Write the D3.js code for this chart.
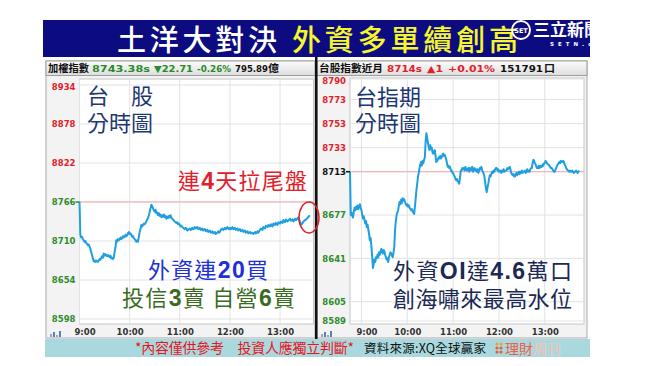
<!DOCTYPE html>
<html>
<head>
<meta charset="utf-8">
<script src="https://cdn.jsdelivr.net/npm/d3@7"></script>
<style>
body { margin: 0; background: #fff; }
svg { display: block; font-family: "Noto Sans CJK TC", sans-serif; }
</style>
</head>
<body>
<svg id="chart" width="650" height="366"></svg>
<script>
// ---- data ----
// TAIEX, one value per minute from 09:00
const taiexStart = "09:00";
const taiexValue = [
  8766, 8719, 8715, 8716, 8713, 8711, 8709, 8710, 8707, 8706,
  8704, 8705, 8702, 8699, 8694, 8690, 8685, 8681, 8682, 8680,
  8682, 8681, 8680, 8682, 8684, 8683, 8686, 8688, 8686, 8692,
  8689, 8691, 8690, 8688, 8690, 8688, 8687, 8689, 8685, 8686,
  8684, 8686, 8694, 8701, 8711, 8709, 8713, 8711, 8712, 8715,
  8713, 8714, 8717, 8715, 8716, 8719, 8717, 8718, 8721, 8723,
  8720, 8721, 8719, 8716, 8717, 8714, 8713, 8711, 8709, 8711,
  8709, 8716, 8723, 8727, 8733, 8731, 8733, 8735, 8734, 8736,
  8738, 8741, 8743, 8747, 8752, 8757, 8762, 8760, 8757, 8754,
  8752, 8755, 8750, 8751, 8747, 8750, 8746, 8748, 8744, 8747,
  8745, 8748, 8744, 8746, 8742, 8745, 8743, 8746, 8744, 8747,
  8743, 8742, 8741, 8739, 8738, 8737, 8736, 8737, 8734, 8735,
  8733, 8731, 8732, 8730, 8729, 8728, 8727, 8729, 8728, 8725,
  8726, 8727, 8728, 8726, 8727, 8729, 8727, 8728, 8730, 8728,
  8729, 8730, 8727, 8728, 8729, 8726, 8727, 8728, 8725, 8726,
  8727, 8724, 8725, 8726, 8723, 8724, 8725, 8722, 8723, 8724,
  8721, 8722, 8723, 8720, 8721, 8722, 8724, 8722, 8723, 8726,
  8727, 8728, 8726, 8727, 8729, 8727, 8728, 8730, 8728, 8727,
  8729, 8727, 8728, 8730, 8727, 8728, 8729, 8726, 8727, 8728,
  8725, 8726, 8727, 8724, 8725, 8726, 8723, 8724, 8725, 8722,
  8723, 8724, 8721, 8722, 8723, 8721, 8722, 8722, 8720, 8721,
  8723, 8721, 8722, 8724, 8722, 8724, 8726, 8728, 8727, 8726,
  8730, 8729, 8728, 8732, 8731, 8730, 8733, 8732, 8731, 8734,
  8732, 8731, 8735, 8734, 8733, 8736, 8734, 8733, 8737, 8736,
  8735, 8738, 8737, 8736, 8740, 8738, 8737, 8741, 8739, 8738,
  8740, 8741, 8742, 8739, 8740, 8741, 8738, 8740, 8742, 8740,
  8741, 8743, 8744, 8740, 8736, 8735, 8734, 8736, 8738, 8739,
  8740, 8741, 8742, 8743, 8745, 8746, 8746
];
const taiexTicks = [8598, 8654, 8710, 8766, 8822, 8878, 8934];
const taiexPrevClose = 8766.09;

// TAIEX futures near month, one value per minute from 08:45
const futStart = "08:45";
const futValue = [
  8713, 8677, 8679, 8676, 8675, 8680, 8683, 8681, 8684, 8682,
  8685, 8682, 8684, 8686, 8683, 8681, 8677, 8674, 8676, 8673,
  8670, 8672, 8667, 8669, 8665, 8661, 8656, 8658, 8651, 8643,
  8633, 8636, 8640, 8638, 8642, 8641, 8644, 8642, 8646, 8644,
  8647, 8649, 8646, 8645, 8648, 8647, 8644, 8642, 8640, 8641,
  8638, 8642, 8644, 8646, 8645, 8643, 8642, 8646, 8651, 8665,
  8672, 8677, 8679, 8681, 8685, 8688, 8686, 8690, 8687, 8691,
  8689, 8690, 8688, 8686, 8685, 8686, 8684, 8685, 8683, 8682,
  8681, 8682, 8680, 8679, 8678, 8684, 8691, 8698, 8703, 8709,
  8712, 8716, 8719, 8721, 8718, 8722, 8720, 8723, 8725, 8738,
  8745, 8741, 8737, 8734, 8731, 8735, 8732, 8733, 8729, 8728,
  8730, 8731, 8726, 8721, 8722, 8723, 8725, 8724, 8726, 8724,
  8725, 8727, 8728, 8726, 8727, 8725, 8723, 8720, 8717, 8718,
  8716, 8717, 8714, 8714, 8712, 8712, 8710, 8709, 8707, 8706,
  8707, 8705, 8704, 8703, 8708, 8714, 8714, 8716, 8715, 8716,
  8714, 8717, 8715, 8714, 8715, 8716, 8713, 8716, 8714, 8715,
  8717, 8713, 8715, 8716, 8714, 8715, 8713, 8715, 8712, 8714,
  8716, 8715, 8717, 8714, 8713, 8711, 8709, 8704, 8699, 8696,
  8700, 8703, 8707, 8710, 8709, 8711, 8713, 8712, 8714, 8713,
  8715, 8716, 8716, 8714, 8715, 8713, 8713, 8714, 8712, 8714,
  8713, 8715, 8713, 8714, 8714, 8714, 8716, 8715, 8716, 8717,
  8715, 8712, 8711, 8710, 8711, 8709, 8709, 8711, 8712, 8710,
  8712, 8713, 8711, 8713, 8712, 8714, 8712, 8713, 8713, 8714,
  8712, 8713, 8715, 8713, 8714, 8713, 8715, 8716, 8716, 8720,
  8723, 8722, 8720, 8719, 8717, 8716, 8716, 8718, 8716, 8718,
  8717, 8717, 8719, 8718, 8720, 8720, 8722, 8721, 8720, 8719,
  8719, 8718, 8717, 8716, 8716, 8715, 8714, 8713, 8713, 8715,
  8716, 8718, 8719, 8720, 8721, 8720, 8722, 8721, 8721, 8722,
  8721, 8719, 8718, 8716, 8715, 8714, 8714, 8713, 8714, 8713,
  8713, 8714, 8713, 8712, 8713, 8713, 8714, 8713, 8712, 8713,
  8714
];
const futTicks = [8589, 8605, 8641, 8677, 8713, 8733, 8753, 8773, 8790];
const futPrevClose = 8713;

const parseTime = d3.timeParse("%H:%M");
const RED = "#e2202a", GREEN = "#2c8c2c";

class IntradayChart {

    constructor(_config, _data) {
        this.config = {
            parentElement: _config.parentElement,
            panel: _config.panel,
            plot: _config.plot,
            timeDomain: _config.timeDomain,
            timeRange: _config.timeRange,
            yDomain: _config.yDomain,
            yRange: _config.yRange,
            yTicks: _config.yTicks,
            prevClose: _config.prevClose,
            header: _config.header
        }
        this.data = _data;
        this.initVis();
    }

    initVis() {
        let vis = this;
        const c = vis.config;

        vis.g = d3.select(c.parentElement).append('g');

        vis.xScale = d3.scaleTime()
            .domain(c.timeDomain.map(parseTime))
            .range(c.timeRange);

        vis.yScale = d3.scaleLinear()
            .domain(c.yDomain)
            .range(c.yRange);

        // panel frame, plot box, header strip
        vis.g.append('rect')
            .attr('x', c.panel[0]).attr('y', 61)
            .attr('width', c.panel[1] - c.panel[0]).attr('height', 277)
            .attr('fill', '#f3f3f3').attr('stroke', '#a9a9a9');

        vis.g.append('rect')
            .attr('x', c.plot.x).attr('y', c.plot.y)
            .attr('width', c.plot.width).attr('height', c.plot.height)
            .attr('fill', '#fff').attr('stroke', '#c6c6c6');

        vis.g.append('rect')
            .attr('x', c.panel[0]).attr('y', 61)
            .attr('width', c.panel[1] - c.panel[0]).attr('height', 14.5)
            .attr('fill', 'url(#hdrGrad)').attr('stroke', '#9d9d9d');

        vis.renderVis();
    }

    renderVis() {
        let vis = this;
        const c = vis.config;
        const start = parseTime(vis.data.start);
        const hours = vis.xScale.ticks(d3.timeHour.every(1));

        // grid
        vis.g.append('g').selectAll('line')
            .data(c.yTicks)
            .join('line')
            .attr('x1', c.plot.x).attr('x2', c.plot.x + c.plot.width)
            .attr('y1', d => vis.yScale(d)).attr('y2', d => vis.yScale(d))
            .attr('stroke', '#e2e2e2');

        vis.g.append('g').selectAll('line')
            .data(hours)
            .join('line')
            .attr('x1', d => vis.xScale(d)).attr('x2', d => vis.xScale(d))
            .attr('y1', c.plot.y).attr('y2', c.plot.y + c.plot.height)
            .attr('stroke', '#e2e2e2');

        // previous close reference
        vis.g.append('line')
            .attr('x1', c.plot.x).attr('x2', c.plot.x + c.plot.width)
            .attr('y1', vis.yScale(c.prevClose)).attr('y2', vis.yScale(c.prevClose))
            .attr('stroke', '#f3a9ad');

        const line = d3.line()
            .x((d, i) => vis.xScale(d3.timeMinute.offset(start, i)))
            .y(d => vis.yScale(d));

        vis.g.append('path')
            .datum(vis.data.values)
            .attr('d', line)
            .attr('fill', 'none')
            .attr('stroke', '#1f9fe0')
            .attr('stroke-width', 2)
            .attr('stroke-linejoin', 'round');

        // y axis labels, coloured against previous close
        const tickColor = d => d > c.prevClose ? RED : (d < c.prevClose ? GREEN : '#111');

        vis.yAxisG = vis.g.append('g')
            .attr('transform', `translate(${c.plot.x},0)`)
            .call(d3.axisLeft(vis.yScale).tickValues(c.yTicks).tickSize(0).tickPadding(4).tickFormat(d3.format('d')))
            .call(g => g.select('.domain').remove());
        vis.yAxisG.selectAll('text')
            .attr('fill', tickColor)
            .attr('font-family', 'DejaVu Sans, sans-serif')
            .attr('font-weight', 'bold')
            .attr('font-size', 8.5)
            .attr('dy', d => d === c.yDomain[1] ? '0.55em' : '0.32em');

        const refTick = c.yTicks.reduce((a, b) => Math.abs(b - c.prevClose) < Math.abs(a - c.prevClose) ? b : a);
        vis.g.append('line')
            .attr('x1', c.plot.x - 4).attr('x2', c.plot.x)
            .attr('y1', vis.yScale(refTick)).attr('y2', vis.yScale(refTick))
            .attr('stroke', tickColor(refTick)).attr('stroke-width', 1.5);

        // x axis
        vis.xAxisG = vis.g.append('g')
            .attr('transform', `translate(0,${c.plot.y + c.plot.height})`)
            .call(d3.axisBottom(vis.xScale).ticks(d3.timeHour.every(1)).tickSize(0).tickPadding(5)
                .tickFormat(d3.timeFormat('%-H:%M')))
            .call(g => g.select('.domain').remove());
        vis.xAxisG.selectAll('text')
            .attr('fill', '#333')
            .attr('font-family', 'DejaVu Sans, sans-serif')
            .attr('font-weight', 'bold')
            .attr('font-size', 8.5)
            .attr('dx', (d, i) => i === 0 ? 5 : 0);

        // tiny chart icon at the corner
        const ix = c.panel[0] + 4;
        vis.g.append('g').selectAll('rect')
            .data([3, 5, 2, 6])
            .join('rect')
            .attr('x', (d, i) => ix + i * 3).attr('y', d => 337 - d)
            .attr('width', 2).attr('height', d => d)
            .attr('fill', (d, i) => i % 2 ? '#5a7fb8' : '#9aa8bb');

        // header text, each piece squeezed to its measured width
        c.header.forEach(p => {
            vis.g.append('text')
                .attr('x', p.x).attr('y', 72)
                .attr('fill', p.color)
                .attr('font-weight', 'bold')
                .attr('font-family', p.cjk ? '"Noto Sans CJK TC", sans-serif' : 'DejaVu Sans, sans-serif')
                .attr('font-size', p.cjk ? 10.5 : 9.5)
                .attr('textLength', p.w)
                .attr('lengthAdjust', 'spacingAndGlyphs')
                .text(p.text);
        });
    }
}

const svg = d3.select('#chart');
const defs = svg.append('defs');
const grad = defs.append('linearGradient').attr('id', 'hdrGrad').attr('x1', 0).attr('y1', 0).attr('x2', 0).attr('y2', 1);
grad.append('stop').attr('offset', 0).attr('stop-color', '#fbfbfb');
grad.append('stop').attr('offset', 1).attr('stop-color', '#dedede');
defs.append('clipPath').attr('id', 'titleClip')
    .append('rect').attr('x', 43).attr('y', 20).attr('width', 547).attr('height', 37);

// ---- title bar ----
svg.append('rect').attr('x', 43).attr('y', 20).attr('width', 547).attr('height', 37).attr('fill', '#0c0c80');
svg.append('text').attr('x', 117).attr('y', 51).attr('fill', '#fff')
    .attr('font-size', 29).attr('font-weight', 500)
    .attr('textLength', 160).attr('lengthAdjust', 'spacing')
    .text('土洋大對決');
svg.append('text').attr('x', 292).attr('y', 51).attr('fill', '#f6f62a')
    .attr('font-size', 29).attr('font-weight', 500)
    .attr('textLength', 226).attr('lengthAdjust', 'spacing')
    .text('外資多單續創高');

const logo = svg.append('g').attr('clip-path', 'url(#titleClip)');
logo.append('circle').attr('cx', 521).attr('cy', 30).attr('r', 9)
    .attr('fill', 'none').attr('stroke', '#fff').attr('stroke-width', 2);
logo.append('text').attr('x', 521).attr('y', 32.5).attr('text-anchor', 'middle')
    .attr('font-family', 'DejaVu Sans, sans-serif').attr('font-weight', 'bold')
    .attr('font-size', 6.5).attr('fill', '#fff').text('SET');
logo.append('text').attr('x', 533).attr('y', 36).attr('fill', '#fff')
    .attr('font-size', 17).attr('font-weight', 700).text('三立新聞');
logo.append('text').attr('x', 550).attr('y', 46).attr('fill', '#fff')
    .attr('font-family', 'DejaVu Sans, sans-serif').attr('font-weight', 'bold')
    .attr('font-size', 5.5).attr('letter-spacing', 4).text('SETN.com');

// ---- panels ----
new IntradayChart({
    parentElement: '#chart',
    panel: [46, 315],
    plot: {x: 79.5, y: 79, width: 234, height: 245},
    timeDomain: ['09:00', '13:40'],
    timeRange: [79.5, 313.5],
    yDomain: [8598, 8934],
    yRange: [319, 85],
    yTicks: taiexTicks,
    prevClose: taiexPrevClose,
    header: [
        {text: '加權指數', x: 48, w: 41, color: '#111', cjk: true},
        {text: '8743.38s', x: 92, w: 58, color: '#2b8a2b'},
        {text: '▼22.71', x: 154, w: 39, color: '#2b8a2b'},
        {text: '-0.26%', x: 197, w: 34, color: '#2b8a2b'},
        {text: '795.89', x: 235, w: 33, color: '#111'},
        {text: '億', x: 268, w: 11, color: '#111', cjk: true}
    ]
}, {start: taiexStart, values: taiexValue});

new IntradayChart({
    parentElement: '#chart',
    panel: [317, 587],
    plot: {x: 350, y: 78, width: 234, height: 246},
    timeDomain: ['08:45', '13:50'],
    timeRange: [350, 583],
    yDomain: [8589, 8790],
    yRange: [321, 79],
    yTicks: futTicks,
    prevClose: futPrevClose,
    header: [
        {text: '台股指數近月', x: 319, w: 64, color: '#111', cjk: true},
        {text: '8714s', x: 387, w: 35, color: RED},
        {text: '▲1', x: 427, w: 16, color: RED},
        {text: '+0.01%', x: 448, w: 47, color: RED},
        {text: '151791', x: 500, w: 43, color: '#111'},
        {text: '口', x: 544, w: 11, color: '#111', cjk: true}
    ]
}, {start: futStart, values: futValue});

// divider
svg.append('rect').attr('x', 315).attr('y', 57).attr('width', 2.5).attr('height', 285).attr('fill', '#111');

// ---- annotations ----
function richText(x, y, parts, color, len) {
    const t = svg.append('text')
        .attr('x', x).attr('y', y)
        .attr('fill', color).attr('font-size', 22)
        .attr('textLength', len).attr('lengthAdjust', 'spacing');
    parts.forEach(p => {
        const s = t.append('tspan').text(p[0]);
        if (p[1]) s.attr('font-family', 'Liberation Sans, Arial, sans-serif').attr('font-weight', 'bold').attr('font-size', 23);
    });
    return t;
}

richText(87, 103.5, [['台　股']], '#1d3773', 66);
richText(87, 130.5, [['分時圖']], '#1d3773', 66);
richText(355, 104.5, [['台指期']], '#1d3773', 66);
richText(355, 131, [['分時圖']], '#1d3773', 66);

richText(178, 188.5, [['連'], ['4', true], ['天拉尾盤']], RED, 129);
richText(148, 277.5, [['外資連'], ['20', true], ['買']], '#2030d6', 120);
richText(122, 305.5, [['投信'], ['3', true], ['賣 自營'], ['6', true], ['賣']], '#3a6b1f', 173);
richText(393, 278.5, [['外資'], ['OI', true], ['達'], ['4.6', true], ['萬口']], '#1c2955', 179);
richText(393, 306.5, [['創海嘯來最高水位']], '#1c2955', 179);

svg.append('ellipse').attr('cx', 309).attr('cy', 217.5).attr('rx', 10).attr('ry', 15.5)
    .attr('fill', 'none').attr('stroke', '#e0202a').attr('stroke-width', 1.5);

// ---- footer ----
svg.append('rect').attr('x', 45).attr('y', 339).attr('width', 545).attr('height', 18).attr('fill', '#a9d9de');
svg.append('text').attr('x', 135).attr('y', 353).attr('fill', '#e8141c').attr('font-size', 14)
    .attr('textLength', 219).attr('lengthAdjust', 'spacing')
    .text('*內容僅供參考　投資人應獨立判斷*');
svg.append('text').attr('x', 364).attr('y', 353).attr('fill', '#111').attr('font-size', 12.5)
    .attr('textLength', 122).attr('lengthAdjust', 'spacing')
    .text('資料來源:XQ全球贏家');
svg.append('g').selectAll('circle')
    .data([[497, 344], [501, 344], [497, 348], [501, 348], [497, 352], [501, 352]])
    .join('circle')
    .attr('cx', d => d[0]).attr('cy', d => d[1]).attr('r', 1.6)
    .attr('fill', (d, i) => i < 2 ? '#f59a3a' : '#ef5a3a');
svg.append('text').attr('x', 505).attr('y', 353.5).attr('font-size', 14)
    .call(t => t.append('tspan').attr('fill', '#ef5d45').text('理財'))
    .call(t => t.append('tspan').attr('fill', '#f7c2b4').text('周刊'));
</script>
</body>
</html>
